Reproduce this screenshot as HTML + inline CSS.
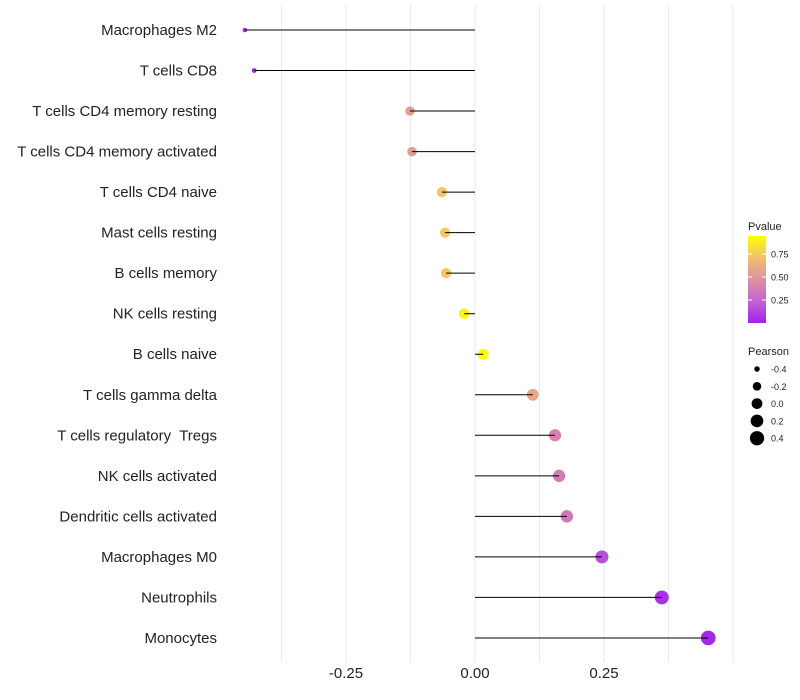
<!DOCTYPE html>
<html><head><meta charset="utf-8"><style>
body{margin:0;background:#fff;font-family:"Liberation Sans",sans-serif}
svg{display:block}
text{white-space:pre}
</style></head><body>
<svg id="chart" width="800" height="700" xmlns="http://www.w3.org/2000/svg"></svg>
<script>
const categories=["Macrophages M2","T cells CD8","T cells CD4 memory resting","T cells CD4 memory activated","T cells CD4 naive","Mast cells resting","B cells memory","NK cells resting","B cells naive","T cells gamma delta","T cells regulatory  Tregs","NK cells activated","Dendritic cells activated","Macrophages M0","Neutrophils","Monocytes"];
const pearson=[-0.446,-0.428,-0.126,-0.122,-0.064,-0.058,-0.056,-0.021,0.016,0.112,0.155,0.163,0.178,0.246,0.362,0.452];
const pvalues=[0.01,0.03,0.56,0.56,0.76,0.78,0.78,0.95,0.98,0.62,0.42,0.4,0.37,0.17,0.06,0.03];
const xTicks=[-0.25,0,0.25];
const xTickLabels=["-0.25","0.00","0.25"];
const pTicks=[0.25,0.5,0.75];
const sizeLegend=[-0.4,-0.2,0,0.2,0.4];
const svg=document.getElementById('chart');
const NS="http://www.w3.org/2000/svg";
function X(v){return 475+v*516;}
function Y(i){return 30+i*40.53;}
function R(v){return 1.1*Math.sqrt(Math.max(2,24.1+44.7*v));}
const stops=[[0,[160,32,240]],[0.25,[196,99,208]],[0.5,[221,144,160]],[0.75,[242,192,112]],[1,[255,255,0]]];
function col(p){for(let k=1;k<stops.length;k++){if(p<=stops[k][0]){const a=stops[k-1],b=stops[k],t=(p-a[0])/(b[0]-a[0]);return 'rgb('+a[1].map((c,j)=>Math.round(c+(b[1][j]-c)*t)).join(',')+')';}}return 'rgb(255,255,0)';}
function el(t,a,p){const e=document.createElementNS(NS,t);for(const k in a)e.setAttribute(k,a[k]);(p||svg).appendChild(e);return e;}
for(let v=-0.375;v<=0.51;v+=0.125){const g=el('line',{x1:X(v),x2:X(v),y1:5,y2:662,stroke:'#ebebeb','stroke-width':1});

}
xTicks.forEach((v,i)=>{const t=el('text',{x:X(v),y:678,'text-anchor':'middle','font-size':15,fill:'#222'});t.textContent=xTickLabels[i];

});
categories.forEach((c,i)=>{
const t=el('text',{x:217,y:Y(i)+5,'text-anchor':'end','font-size':15,fill:'#222'});t.textContent=c;


const d=el('circle',{cx:X(pearson[i]),cy:Y(i),r:R(pearson[i]),fill:col(pvalues[i])});


const l=el('line',{x1:X(0),x2:X(pearson[i]),y1:Y(i),y2:Y(i),stroke:'#000','stroke-width':1});


});
const lt=el('text',{x:748,y:230,'font-size':11,fill:'#222'});lt.textContent='Pvalue';


const defs=el('defs',{});const lg=el('linearGradient',{id:'pg',x1:0,y1:1,x2:0,y2:0},defs);
stops.forEach(s=>el('stop',{offset:s[0],'stop-color':col(s[0])},lg));
const bar=el('rect',{x:748,y:236,width:18,height:87,fill:'url(#pg)'});


pTicks.forEach(p=>{const y=323-p*92;const t=el('text',{x:771,y:y+3.5,'font-size':9,fill:'#222'});t.textContent=p.toFixed(2);


el('line',{x1:748,x2:752,y1:y,y2:y,stroke:'#fff'});el('line',{x1:762,x2:766,y1:y,y2:y,stroke:'#fff'});});
const st=el('text',{x:748,y:355,'font-size':11,fill:'#222'});st.textContent='Pearson';


sizeLegend.forEach((v,i)=>{const y=369+i*17.3;
const c=el('circle',{cx:757,cy:y,r:R(v),fill:'#000'});


const t=el('text',{x:771,y:y+3.5,'font-size':9,fill:'#222'});t.textContent=v.toFixed(1);

});
</script>
</body></html>
